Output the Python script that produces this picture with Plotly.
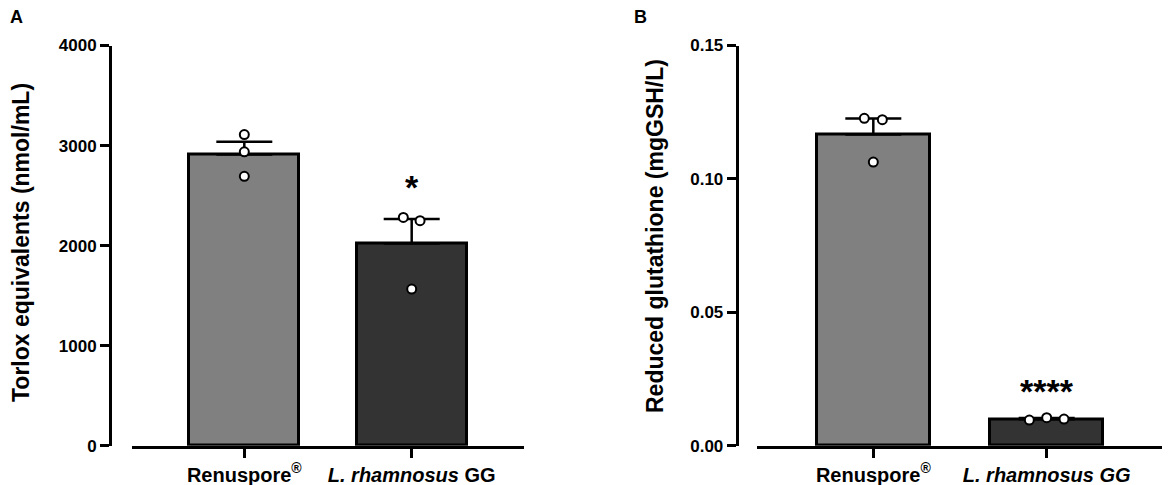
import plotly.graph_objects as go

# Group labels (x axis)
groups_a = ["Renuspore<sup>®</sup>", "<i>L. rhamnosus</i> GG"]
groups_b = ["Renuspore<sup>®</sup>", "<i>L. rhamnosus GG</i>"]

# Panel A: Torlox equivalents (nmol/mL)
mean_a = [2910, 2020]
sem_a = [127, 246]
pts_a_group = [0, 0, 0, 1, 1, 1]
pts_a_offset = [0, 0, 0, -0.05, 0.05, 0]
pts_a_value = [3110, 2937, 2693, 2282, 2249, 1566]
stars_a = ["", "*"]
stars_a_y = [None, 2590]

# Panel B: Reduced glutathione (mgGSH/L)
mean_b = [0.1166, 0.0099]
sem_b = [0.0060, 0.0005]
pts_b_group = [0, 0, 0, 1, 1, 1]
pts_b_offset = [-0.052, 0.052, 0, -0.1, 0, 0.1]
pts_b_value = [0.1227, 0.1222, 0.1063, 0.0096, 0.0105, 0.0100]
stars_b = ["", "****"]
stars_b_y = [None, 0.0206]

yticks_a = [0, 1000, 2000, 3000, 4000]
yticks_b = [0.00, 0.05, 0.10, 0.15]

bar_colors = ["#808080", "#333333"]
FONT = "Liberation Sans, Arial, sans-serif"

# page body adds an 8px offset, so the figure is drawn 8px smaller
OFF = 8
W, H = 1170 - OFF, 485 - OFF


def px(x):
    return (x - OFF) / W


def py(y):
    return 1 - (y - OFF) / H


fig = go.Figure()


def add_panel(means, sems, pg, po, pv, xa, ya):
    fig.add_trace(go.Bar(
        x=[0, 1], y=means, width=0.655,
        marker=dict(color=bar_colors, line=dict(color="black", width=3)),
        error_y=dict(type="data", symmetric=False, array=sems, arrayminus=[0, 0],
                     color="black", thickness=2.5, width=28),
        xaxis=xa, yaxis=ya, showlegend=False,
    ))
    fig.add_trace(go.Scatter(
        x=[g + o for g, o in zip(pg, po)], y=pv, mode="markers",
        marker=dict(size=9, color="white", line=dict(color="black", width=2)),
        xaxis=xa, yaxis=ya, showlegend=False, cliponaxis=False,
    ))


add_panel(mean_a, sem_a, pts_a_group, pts_a_offset, pts_a_value, "x", "y")
add_panel(mean_b, sem_b, pts_b_group, pts_b_offset, pts_b_value, "x2", "y2")

ydom = [py(445.7), py(45.5)]
xcommon = dict(range=[-0.671, 1.671], showline=True, linewidth=3, linecolor="black",
               ticks="outside", ticklen=9, tickwidth=3, tickcolor="black",
               tickvals=[0, 1], showgrid=False, zeroline=False, automargin=False,
               tickfont=dict(family=FONT, size=20, color="black", weight="bold"))
ycommon = dict(showline=True, linewidth=3, linecolor="black", ticks="outside",
               ticklen=9, tickwidth=3, tickcolor="black", showgrid=False,
               zeroline=False, domain=ydom, anchor="free", automargin=False,
               tickfont=dict(family=FONT, size=17, color="black", weight="bold"))

fig.update_layout(
    template="none",
    width=W, height=H, margin=dict(l=0, r=0, t=0, b=0, pad=0),
    paper_bgcolor="white", plot_bgcolor="white", bargap=0,
    xaxis=dict(domain=[px(132), px(524)], anchor="y", ticktext=groups_a, **xcommon),
    xaxis2=dict(domain=[px(757), px(1163)], anchor="y2", ticktext=groups_b, **xcommon),
    yaxis=dict(range=[0, 4000], tickvals=yticks_a, ticktext=[str(v) for v in yticks_a],
               position=px(110), **ycommon),
    yaxis2=dict(range=[0, 0.15], tickvals=yticks_b, ticktext=["%.2f" % v for v in yticks_b],
                position=px(736.7), **ycommon),
)

annos = []
sfont = dict(family=FONT, size=34, color="black", weight="bold")
for s, yv in zip(stars_a, stars_a_y):
    if s:
        annos.append(dict(x=1, y=yv, xref="x", yref="y", text=s, showarrow=False, font=sfont))
for s, yv in zip(stars_b, stars_b_y):
    if s:
        annos.append(dict(x=1, y=yv, xref="x2", yref="y2", text=s, showarrow=False, font=sfont))

tfont = dict(family=FONT, size=23, color="black", weight="bold")
annos.append(dict(x=px(21), y=py(243), xref="paper", yref="paper", textangle=-90,
                  xanchor="center", yanchor="middle",
                  text="Torlox equivalents (nmol/mL)", showarrow=False, font=tfont))
annos.append(dict(x=px(655), y=py(236), xref="paper", yref="paper", textangle=-90,
                  xanchor="center", yanchor="middle",
                  text="Reduced glutathione (mgGSH/L)", showarrow=False, font=tfont))
lfont = dict(family=FONT, size=18, color="black", weight="bold")
annos.append(dict(x=px(16), y=py(17), xref="paper", yref="paper", text="A",
                  xanchor="center", yanchor="middle", showarrow=False, font=lfont))
annos.append(dict(x=px(640), y=py(17), xref="paper", yref="paper", text="B",
                  xanchor="center", yanchor="middle", showarrow=False, font=lfont))
fig.update_layout(annotations=annos)

fig.write_html("out.html")
